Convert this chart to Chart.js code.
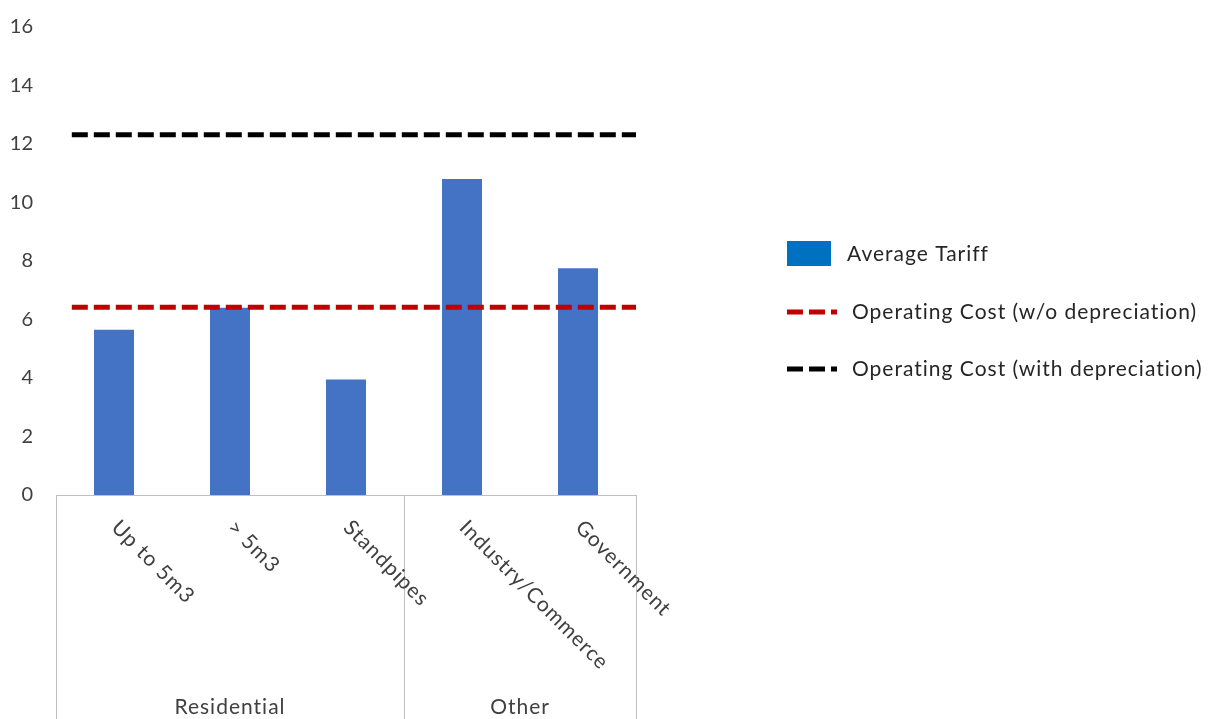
<!DOCTYPE html>
<html>
<head>
<meta charset="utf-8">
<script src="https://cdn.jsdelivr.net/npm/chart.js@4"></script>
<style>
  html, body { margin: 0; padding: 0; background: #fff; }
  #wrap { width: 1211px; height: 719px; }
</style>
</head>
<body>
<div id="wrap"><canvas id="chart"></canvas></div>
<script>
// tariff categories and their grouping on the axis
const categories = ['Up to 5m3', '> 5m3', 'Standpipes', 'Industry/Commerce', 'Government'];
const groupLabels = ['Residential', 'Other'];
const groupSizes = [3, 2];

// values
const averageTariff = [5.65, 6.4, 3.95, 10.8, 7.75];
const costWithoutDepreciation = 6.42;
const costWithDepreciation = 12.32;
const costLineSpan = [0, 1];

const yMin = 0, yMax = 16, yStep = 2;

const FONT = 'Lato, "Liberation Sans", sans-serif';
const TEXT = '#404040';
const RULE = '#bfbfbf';

function setText(ctx) {
  ctx.font = '21px ' + FONT;
  ctx.letterSpacing = '1px';
}

// two-level category axis drawn under the plot: rotated names, group names, dividers
const groupedAxis = {
  id: 'groupedAxis',
  afterDraw(chart) {
    const { ctx, chartArea } = chart;
    const xs = chart.scales.x;
    const bottom = chartArea.bottom;
    const H = chart.height;
    const half = (xs.getPixelForValue(1) - xs.getPixelForValue(0)) / 2;

    ctx.save();
    ctx.strokeStyle = RULE;
    ctx.lineWidth = 1;
    ctx.beginPath();
    ctx.moveTo(chartArea.left, bottom + 0.5);
    ctx.lineTo(chartArea.right, bottom + 0.5);
    // group dividers
    let idx = 0;
    const edges = [xs.getPixelForValue(0) - half];
    groupSizes.forEach(n => { idx += n; edges.push(xs.getPixelForValue(idx - 1) + half); });
    edges.forEach(e => {
      const px = Math.round(e) + 0.5;
      ctx.moveTo(px, bottom);
      ctx.lineTo(px, H);
    });
    ctx.stroke();

    // category names, rotated 45deg clockwise
    ctx.fillStyle = TEXT;
    setText(ctx);
    ctx.textAlign = 'left';
    ctx.textBaseline = 'middle';
    categories.forEach((c, i) => {
      const x = xs.getPixelForValue(i);
      ctx.save();
      ctx.translate(x + 1, bottom + 29);
      ctx.rotate(Math.PI / 4);
      ctx.fillText(c, 0, 0);
      ctx.restore();
    });

    // group names
    ctx.textAlign = 'center';
    groupLabels.forEach((g, i) => {
      ctx.fillText(g, (edges[i] + edges[i + 1]) / 2, H - 12);
    });
    ctx.restore();
  }
};

// legend to the right of the plot
const sideLegend = {
  id: 'sideLegend',
  afterDraw(chart) {
    const { ctx, chartArea } = chart;
    const x0 = chartArea.right + 151;
    const rows = [254, 312, 369];
    ctx.save();
    setText(ctx);
    ctx.fillStyle = '#262626';
    ctx.textBaseline = 'middle';
    chart.data.datasets.forEach((ds, i) => {
      const y = rows[i];
      if (ds.type === 'line') {
        ctx.save();
        ctx.strokeStyle = ds.borderColor;
        ctx.lineWidth = ds.borderWidth;
        ctx.setLineDash(ds.borderDash);
        ctx.beginPath();
        ctx.moveTo(x0, y);
        ctx.lineTo(x0 + 50, y);
        ctx.stroke();
        ctx.restore();
        ctx.fillText(ds.label, x0 + 65, y);
      } else {
        ctx.fillStyle = '#0070c0';
        ctx.fillRect(x0, y - 13, 44, 25);
        ctx.fillStyle = '#262626';
        ctx.fillText(ds.label, x0 + 60, y);
      }
    });
    ctx.restore();
  }
};

new Chart(document.getElementById('chart'), {
  data: {
    labels: categories,
    datasets: [
      {
        type: 'bar',
        label: 'Average Tariff',
        data: averageTariff,
        backgroundColor: '#4472c4',
        grouped: false,
        categoryPercentage: 1,
        barPercentage: 0.345,
        order: 2
      },
      {
        type: 'line',
        label: 'Operating Cost (w/o depreciation)',
        data: costLineSpan.map(x => ({ x, y: costWithoutDepreciation })),
        xAxisID: 'xSpan',
        borderColor: '#c00000',
        borderWidth: 5,
        borderDash: [16, 6],
        pointRadius: 0,
        fill: false,
        order: 1
      },
      {
        type: 'line',
        label: 'Operating Cost (with depreciation)',
        data: costLineSpan.map(x => ({ x, y: costWithDepreciation })),
        xAxisID: 'xSpan',
        borderColor: '#000000',
        borderWidth: 5,
        borderDash: [16, 6],
        pointRadius: 0,
        fill: false,
        order: 0
      }
    ]
  },
  options: {
    responsive: true,
    maintainAspectRatio: false,
    animation: false,
    layout: { padding: { top: 19, right: 575, bottom: 224, left: 0 } },
    plugins: { legend: { display: false }, tooltip: { enabled: false } },
    scales: {
      x: { type: 'category', display: false, offset: true },
      xSpan: { type: 'linear', display: false, min: -0.028, max: 1 },
      y: {
        min: yMin,
        max: yMax,
        ticks: { stepSize: yStep, padding: 15, color: TEXT, font: { family: FONT, size: 20 } },
        grid: { display: false },
        border: { display: false },
        afterFit(scale) { scale.width = 56; }
      }
    }
  },
  plugins: [groupedAxis, sideLegend]
});
</script>
</body>
</html>
